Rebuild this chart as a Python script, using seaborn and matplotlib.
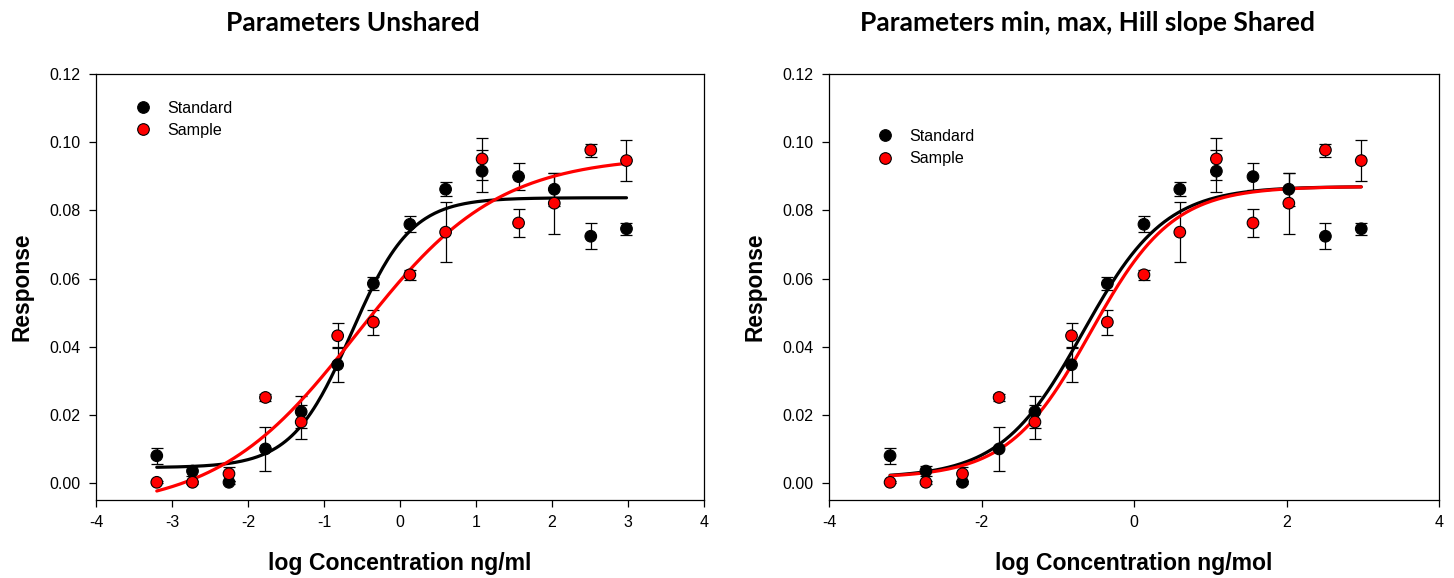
import numpy as np
import pandas as pd
import matplotlib
matplotlib.use("Agg")
import matplotlib.pyplot as plt
from matplotlib.ticker import FormatStrFormatter
import seaborn as sns

# log concentration of each dilution
log_conc = [-3.2, -2.73, -2.25, -1.77, -1.3, -0.82, -0.35, 0.13, 0.6, 1.08, 1.56, 2.03, 2.51, 2.98]

# mean response and error
std_resp = [0.0080, 0.0035, 0.0002, 0.0100, 0.0209, 0.0347, 0.0585, 0.0759, 0.0862, 0.0915, 0.0899, 0.0862, 0.0724, 0.0746]
std_err = [0.0024, 0.0015, 0.0004, 0.0064, 0.0047, 0.0051, 0.0018, 0.0023, 0.0021, 0.0062, 0.0040, 0.0049, 0.0038, 0.0018]
smp_resp = [0.0002, 0.0002, 0.0027, 0.0251, 0.0179, 0.0432, 0.0472, 0.0611, 0.0736, 0.0951, 0.0763, 0.0821, 0.0977, 0.0946]
smp_err = [0.0003, 0.0004, 0.0020, 0.0011, 0.0050, 0.0036, 0.0037, 0.0015, 0.0089, 0.0062, 0.0041, 0.0089, 0.0019, 0.0061]

# four parameter logistic fits: bottom, top, logEC50, hill slope
fit_unshared = {
    'Standard': [0.0045, 0.0837, -0.637, 1.11],
    'Sample': [-0.008, 0.096, -0.56, 0.47],
}
fit_shared = {
    'Standard': [0.0015, 0.0870, -0.67, 0.806],
    'Sample': [0.0015, 0.0870, -0.57, 0.806],
}

titles = ['Parameters Unshared', 'Parameters min, max, Hill slope Shared']
xlabels = ['log Concentration ng/ml', 'log Concentration ng/mol']
xtick_steps = [1, 2]
colors = {'Standard': 'black', 'Sample': 'red'}

points = pd.DataFrame({
    'x': log_conc * 2,
    'y': std_resp + smp_resp,
    'err': std_err + smp_err,
    'group': ['Standard'] * len(log_conc) + ['Sample'] * len(log_conc),
})


def logistic(x, bottom, top, ec50, hill):
    return bottom + (top - bottom) / (1 + 10 ** ((ec50 - x) * hill))


def draw_panel(ax, fits, legend_pos):
    for name in ['Standard', 'Sample']:
        sub = points[points['group'] == name]
        ax.errorbar(sub['x'], sub['y'], yerr=sub['err'], fmt='none', ecolor='black',
                    elinewidth=0.9, capsize=4.5, capthick=0.9, zorder=2)
    xs = np.linspace(min(log_conc), max(log_conc), 300)
    curves = pd.concat([pd.DataFrame({'x': xs, 'y': logistic(xs, *fits[n]), 'group': n})
                        for n in ['Standard', 'Sample']])
    sns.lineplot(data=curves, x='x', y='y', hue='group', palette=colors, linewidth=2.3,
                 ax=ax, legend=False, zorder=3)
    sns.scatterplot(data=points, x='x', y='y', hue='group', palette=colors, s=70,
                    edgecolor='black', linewidth=0.8, ax=ax, zorder=4)
    ax.legend(loc='upper left', bbox_to_anchor=legend_pos, frameon=False, fontsize=11.6,
              handletextpad=0.5, labelspacing=0.45, borderaxespad=0)


sns.set_style('ticks')
plt.rcParams['font.family'] = ['Liberation Sans', 'DejaVu Sans']
plt.rcParams['text.color'] = 'black'
plt.rcParams['axes.labelcolor'] = 'black'

fig = plt.figure(figsize=(14.54, 5.78), dpi=100)
axes = [fig.add_axes([0.0660, 0.1349, 0.4182, 0.7370]),
        fig.add_axes([0.5702, 0.1349, 0.4195, 0.7370])]

draw_panel(axes[0], fit_unshared, (0.040, 0.953))
draw_panel(axes[1], fit_shared, (0.055, 0.886))

title_x = [0.243, 0.748]
for i, ax in enumerate(axes):
    ax.set_xlim(-4, 4)
    ax.set_ylim(-0.005, 0.12)
    ax.set_xticks(np.arange(-4, 4.1, xtick_steps[i]))
    ax.set_yticks(np.arange(0, 0.121, 0.02))
    ax.yaxis.set_major_formatter(FormatStrFormatter('%.2f'))
    ax.xaxis.set_major_formatter(FormatStrFormatter('%d'))
    ax.tick_params(direction='out', length=5, width=0.9, labelsize=11.5, pad=6, colors='black')
    for sp in ax.spines.values():
        sp.set_visible(True)
        sp.set_linewidth(0.9)
        sp.set_color('black')
    ax.set_xlabel(xlabels[i], fontsize=16.6, fontweight='bold')
    ax.set_ylabel('Response', fontsize=16.4, fontweight='bold')
    ax.xaxis.set_label_coords(0.5, -0.148)
    ax.xaxis.label.set_va('center')
    ax.yaxis.set_label_coords(-0.122, 0.5)
    ax.yaxis.label.set_va('center')
    fig.text(title_x[i], 0.960, titles[i], ha='center', va='center', fontsize=19,
             fontweight='bold', family=['Lato', 'DejaVu Sans'], color='black')

fig.savefig('out.png', dpi=100)
